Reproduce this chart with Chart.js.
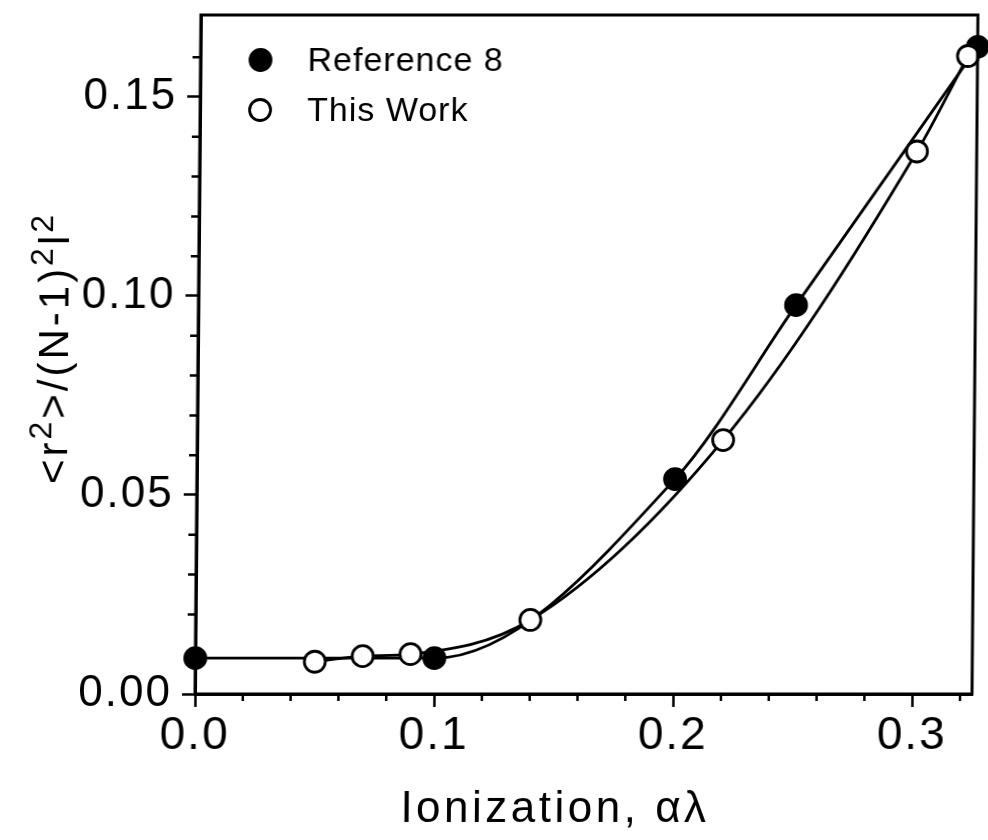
<!DOCTYPE html>
<html>
<head>
<meta charset="utf-8">
<script src="https://cdn.jsdelivr.net/npm/chart.js@4.4.1/dist/chart.umd.min.js"></script>
<style>
  html, body { margin: 0; padding: 0; background: #fff; }
  #wrap { width: 988px; height: 840px; overflow: hidden; }
  /* slight lean of the printed frame */
  #chart { transform: skewX(-0.5deg); transform-origin: 0 694px; }
</style>
</head>
<body>
<div id="wrap"><canvas id="chart" width="988" height="840"></canvas></div>
<script>
// Reference 8 (filled circles)
var refX = [0.0, 0.1, 0.2, 0.25, 0.325];
var refY = [0.009, 0.009, 0.054, 0.0977, 0.1626];

// This Work (open circles)
var workX = [0.05, 0.07, 0.09, 0.14, 0.22, 0.30, 0.321];
var workY = [0.0081, 0.0095, 0.0100, 0.0186, 0.0638, 0.1363, 0.1603];

var xTicks = [0.0, 0.1, 0.2, 0.3];
var xMinorTicks = [0.02, 0.04, 0.06, 0.08, 0.12, 0.14, 0.16, 0.18, 0.22, 0.24, 0.26, 0.28, 0.32];
var yTicks = [0.00, 0.05, 0.10, 0.15];
var yMinorTicks = [0.01, 0.02, 0.03, 0.04, 0.06, 0.07, 0.08, 0.09, 0.11, 0.12, 0.13, 0.14, 0.16];

var FONT = "'Liberation Sans', Arial, Helvetica, sans-serif";

function toPoints(xs, ys) {
  return xs.map(function (x, i) { return { x: x, y: ys[i] }; });
}

// frame, minor ticks, axis titles and the legend block
var decorPlugin = {
  id: "decor",
  beforeDraw: function (chart) {
    chart.ctx.letterSpacing = "2px";
  },
  afterDraw: function (chart) {
    var ctx = chart.ctx;
    var a = chart.chartArea;
    var xs = chart.scales.x, ys = chart.scales.y;

    ctx.save();
    ctx.strokeStyle = "#000";
    ctx.lineWidth = 3;
    ctx.strokeRect(a.left, a.top, a.right - a.left, a.bottom - a.top);

    ctx.lineWidth = 2.5;
    ctx.beginPath();
    xMinorTicks.forEach(function (v) {
      var px = xs.getPixelForValue(v);
      ctx.moveTo(px, a.bottom);
      ctx.lineTo(px, a.bottom + 7);
    });
    yMinorTicks.forEach(function (v) {
      var py = ys.getPixelForValue(v);
      ctx.moveTo(a.left, py);
      ctx.lineTo(a.left - 8, py);
    });
    ctx.stroke();

    // x title
    ctx.fillStyle = "#000";
    ctx.font = "44px " + FONT;
    ctx.letterSpacing = "3.5px";
    ctx.textAlign = "center";
    ctx.textBaseline = "alphabetic";
    ctx.fillText("Ionization, \u03b1\u03bb", 556, 822);

    // y title with superscripts
    var parts = [
      ["<r", false], ["2", true], [">/(N-1)", false], ["2", true], ["l", false], ["2", true]
    ];
    ctx.letterSpacing = "3px";
    var total = 0;
    parts.forEach(function (p) {
      ctx.font = (p[1] ? "32px " : "42px ") + FONT;
      p.push(ctx.measureText(p[0]).width);
      total += p[2];
    });
    ctx.translate(65, 348);
    ctx.rotate(-Math.PI / 2);
    ctx.textAlign = "left";
    var cx = -total / 2;
    parts.forEach(function (p) {
      ctx.font = (p[1] ? "32px " : "42px ") + FONT;
      ctx.fillText(p[0], cx, p[1] ? -16 : 0);
      cx += p[2];
    });
    ctx.setTransform(1, 0, 0, 1, 0, 0);

    // legend
    ctx.letterSpacing = "1px";
    ctx.font = "34px " + FONT;
    ctx.textAlign = "left";
    ctx.textBaseline = "middle";
    var rows = [
      { ds: chart.data.datasets[1], y: 60 },
      { ds: chart.data.datasets[0], y: 110 }
    ];
    rows.forEach(function (r) {
      ctx.beginPath();
      ctx.arc(255, r.y, r.ds.pointRadius, 0, Math.PI * 2);
      ctx.fillStyle = r.ds.pointBackgroundColor;
      ctx.fill();
      ctx.lineWidth = r.ds.pointBorderWidth;
      ctx.strokeStyle = "#000";
      ctx.stroke();
      ctx.fillStyle = "#000";
      ctx.fillText(r.ds.label, 302, r.y + 2);
    });
    ctx.restore();
  }
};

new Chart(document.getElementById("chart"), {
  type: "scatter",
  data: {
    datasets: [
      {
        label: "This Work",
        data: toPoints(workX, workY),
        showLine: true,
        cubicInterpolationMode: "monotone",
        borderColor: "#000",
        borderWidth: 2.8,
        pointRadius: 10.5,
        pointBorderWidth: 2.8,
        pointBackgroundColor: "#fff",
        pointBorderColor: "#000",
        clip: false,
        order: 0
      },
      {
        label: "Reference 8",
        data: toPoints(refX, refY),
        showLine: true,
        cubicInterpolationMode: "monotone",
        borderColor: "#000",
        borderWidth: 2.8,
        pointRadius: 10.5,
        pointBorderWidth: 2.8,
        pointBackgroundColor: "#000",
        pointBorderColor: "#000",
        clip: false,
        order: 1
      }
    ]
  },
  options: {
    responsive: false,
    animation: false,
    layout: { padding: { top: 15, right: 16, left: 0, bottom: 0 } },
    plugins: {
      legend: { display: false },
      tooltip: { enabled: false }
    },
    scales: {
      x: {
        type: "linear",
        min: 0,
        max: 0.325,
        afterBuildTicks: function (s) { s.ticks = xTicks.map(function (v) { return { value: v }; }); },
        afterFit: function (s) { s.height = 146; s.paddingLeft = 0; s.paddingRight = 0; },
        ticks: {
          autoSkip: false,
          maxRotation: 0,
          padding: 2,
          color: "#000",
          font: { family: FONT, size: 46 },
          callback: function (v) { return v.toFixed(1); }
        },
        grid: { drawOnChartArea: false, drawTicks: true, tickLength: 13, tickWidth: 2.5, tickColor: "#000" },
        border: { display: true, color: "#000", width: 3 }
      },
      y: {
        type: "linear",
        min: 0,
        max: 0.1706,
        afterBuildTicks: function (s) { s.ticks = yTicks.map(function (v) { return { value: v }; }); },
        afterFit: function (s) { s.width = 195; s.paddingTop = 0; s.paddingBottom = 0; },
        ticks: {
          autoSkip: false,
          padding: 10,
          color: "#000",
          font: { family: FONT, size: 44 },
          callback: function (v) { return v.toFixed(2); }
        },
        grid: { drawOnChartArea: false, drawTicks: true, tickLength: 13, tickWidth: 2.5, tickColor: "#000" },
        border: { display: true, color: "#000", width: 3 }
      }
    }
  },
  plugins: [decorPlugin]
});
</script>
</body>
</html>
